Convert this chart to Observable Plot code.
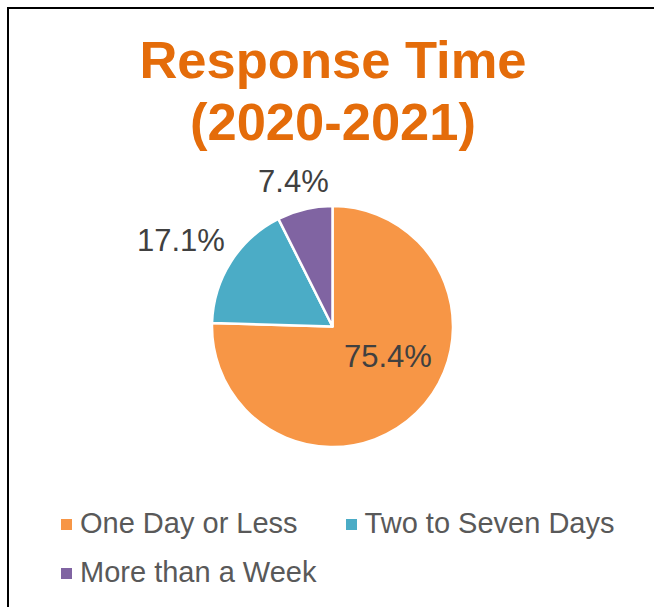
<!DOCTYPE html>
<html>
<head>
<meta charset="utf-8">
<script src="https://cdn.jsdelivr.net/npm/d3@7"></script>
<script src="https://cdn.jsdelivr.net/npm/@observablehq/plot@0.6"></script>
<style>
  html, body { margin: 0; padding: 0; background: #fff; overflow: hidden; }
  #wrap { position: relative; width: 654px; height: 607px; overflow: hidden; font-family: "Liberation Sans", Arial, sans-serif; }
  #frame { position: absolute; left: 7px; top: 7px; width: 900px; height: 900px; border: 2px solid #000; box-sizing: border-box; }
  #title { position: absolute; left: 0; top: 29px; width: 666px; text-align: center; color: #E46C0A; font-weight: bold; font-size: 52.5px; line-height: 62px; }
  #chart { position: absolute; left: 0; top: 160px; }
  #legend { position: absolute; left: 61px; top: 499px; width: 580px; display: flex; flex-wrap: wrap; column-gap: 48px; }
  .item { display: flex; align-items: center; height: 49px; font-size: 29px; color: #595959; white-space: nowrap; }
  .sw { width: 11px; height: 11px; margin-right: 8px; flex: none; position: relative; top: 1px; }
</style>
</head>
<body>
<div id="wrap">
  <div id="frame"></div>
  <div id="title">Response Time<br>(2020-2021)</div>
  <div id="chart"></div>
  <div id="legend"></div>
</div>
<script>
const categories = ["One Day or Less", "Two to Seven Days", "More than a Week"];
const shares = [75.4, 17.1, 7.4];
const colors = ["#F79646", "#4BACC6", "#8064A2"];

const data = categories.map((c, i) => ({cat: c, value: shares[i], label: shares[i].toFixed(1) + "%"}));
const color = Plot.scale({color: {type: "ordinal", domain: categories, range: colors}});

const W = 654, H = 320;
const mLeft = 212, mRight = 201, mTop = 46, mBottom = 33;
const rPx = (W - mLeft - mRight) / 2;
const labelFont = 31;

const arcs = d3.pie().sort(null).value(d => d.value)(data);

// measure label widths
const ctx = document.createElement("canvas").getContext("2d");
ctx.font = `${labelFont}px "Liberation Sans", Arial, sans-serif`;

const labelPos = arcs.map((a, i) => {
  const frac = (a.endAngle - a.startAngle) / (2 * Math.PI);
  if (frac > 0.5) {
    const ang = a.startAngle + (a.endAngle - a.startAngle) * 0.437;
    const rho = 0.52;
    return {x: rho * Math.sin(ang), y: rho * Math.cos(ang), label: a.data.label};
  }
  const ang = (a.startAngle + a.endAngle) / 2;
  const w = ctx.measureText(a.data.label).width;
  const h = labelFont * 0.8;
  const base = rPx + 16;
  const px = base * Math.sin(ang) + Math.sin(ang) * w / 2;
  const py = base * Math.cos(ang) + Math.sign(Math.cos(ang)) * h / 2;
  return {x: px / rPx, y: py / rPx, label: a.data.label};
});

function pieMark(index, scales) {
  const cx = scales.x(0), cy = scales.y(0), r = scales.x(1) - scales.x(0);
  const arc = d3.arc().innerRadius(0).outerRadius(r);
  const g = d3.create("svg:g").attr("transform", `translate(${cx},${cy})`);
  g.selectAll("path").data(arcs).join("path")
    .attr("d", arc)
    .attr("fill", d => color.apply(d.data.cat))
    .attr("stroke", "#fff")
    .attr("stroke-width", 2.5)
    .attr("stroke-linejoin", "round");
  return g.node();
}

const plot = Plot.plot({
  width: W, height: H,
  marginLeft: mLeft, marginRight: mRight, marginTop: mTop, marginBottom: mBottom,
  x: {domain: [-1, 1], axis: null},
  y: {domain: [-1, 1], axis: null},
  style: {background: "transparent", overflow: "visible"},
  marks: [
    pieMark,
    Plot.text(labelPos, {x: "x", y: "y", text: "label", fontSize: labelFont, fill: "#404040",
      textAnchor: "middle", lineAnchor: "middle", fontFamily: '"Liberation Sans", Arial, sans-serif'})
  ]
});
document.getElementById("chart").appendChild(plot);

const legend = document.getElementById("legend");
categories.forEach(c => {
  const it = document.createElement("div");
  it.className = "item";
  const sw = document.createElement("span");
  sw.className = "sw";
  sw.style.background = color.apply(c);
  it.appendChild(sw);
  it.appendChild(document.createTextNode(c));
  legend.appendChild(it);
});
</script>
</body>
</html>
